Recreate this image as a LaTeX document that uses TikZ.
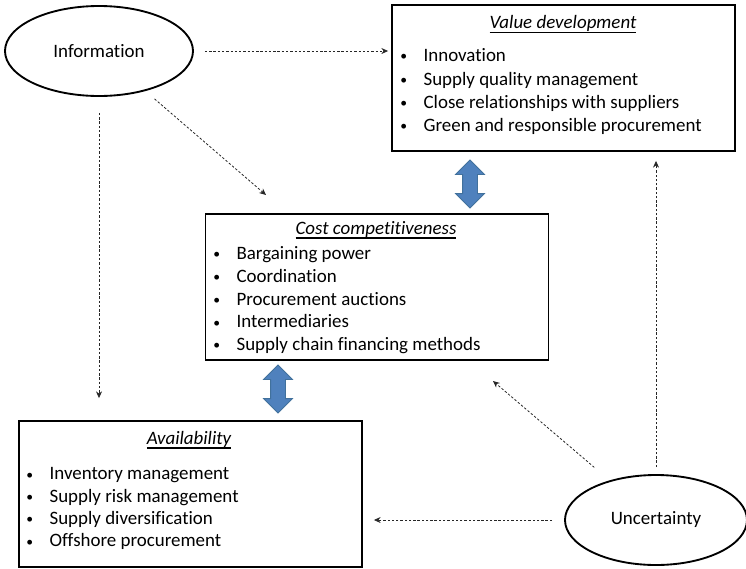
\documentclass[tikz,border=0pt]{standalone}
\usepackage{fontspec}
\setmainfont{Carlito}[Ligatures=NoCommon]
\usepackage{graphicx}
\usepackage{tikz}
\usetikzlibrary{arrows.meta,calc,positioning,shapes.geometric,shapes.arrows}
\definecolor{tinta}{HTML}{000000}
\definecolor{azulflecha}{HTML}{4F81BD}
\definecolor{azulborde}{HTML}{41719C}
\newcommand{\punto}{\makebox[17.5pt][l]{\raisebox{0.6pt}{\scalebox{0.72}{\textbullet}}}}
\newcommand{\subrayado}[1]{\setbox0\hbox{#1}\rlap{\rule[-3.4pt]{\wd0}{0.8pt}}\box0}
\tikzset{
  caja/.style={draw=tinta,line width=1.4pt,minimum width=257.25pt,minimum height=109.5pt,inner sep=0pt},
  elipse/.style={ellipse,draw=tinta,line width=1.4pt,inner sep=0pt,font=\fontsize{14.2}{17}\selectfont},
  titulo/.style={anchor=base,inner sep=0pt,font=\fontsize{14.2}{17}\selectfont\itshape},
  lista/.style={anchor=north west,align=left,inner sep=0pt,font=\fontsize{14.2}{#1}\selectfont},
  punteada/.style={draw=tinta!85,line width=0.6pt,dash pattern=on 1.8pt off 1.4pt,-{Stealth[length=5pt,width=4.5pt]}},
  flechadoble/.style={double arrow,rotate=90,fill=azulflecha,draw=azulborde,line width=0.6pt,minimum height=36pt,inner xsep=0pt,inner ysep=5.25pt,double arrow head extend=5.25pt},
}

\begin{document}
\begin{tikzpicture}[x=0.75pt,y=-0.75pt]
\useasboundingbox (0,0) rectangle (746,568);
\node[caja] (valor) at (563.5,78) {};
\node[caja] (costo) at (377,287) {};
\node[caja] (dispo) at (190.5,494) {};
\node[elipse,minimum width=141pt,minimum height=67.5pt] (info) at (99,51) {Information};
\node[elipse,minimum width=136.5pt,minimum height=67.5pt] (incert) at (656,520) {Uncertainty};
\node[titulo] (tvalor) at (563,28.5) {\subrayado{Value development}};
\node[titulo] (tcosto) at (376,234) {\subrayado{Cost competitiveness}};
\node[titulo] (tdispo) at (189,444) {\subrayado{Availability}};
\node[lista=17.5pt] (lvalor) at (400,48.5) {\punto Innovation\\\punto Supply quality management\\\punto Close relationships with suppliers\\\punto Green and responsible procurement};
\node[lista=17.05pt] (lcosto) at (213,246.5) {\punto Bargaining power\\\punto Coordination\\\punto Procurement auctions\\\punto Intermediaries\\\punto Supply chain financing methods};
\node[lista=16.75pt] (ldispo) at (26,467.5) {\punto Inventory management\\\punto Supply risk management\\\punto Supply diversification\\\punto Offshore procurement};
\node[flechadoble] (dvc) at (470,184) {};
\node[flechadoble] (dcd) at (278,389) {};
\coordinate (infocosto) at (266,195);
\coordinate (incertcosto) at (493,381);
\draw[punteada,shorten <=8.25pt,shorten >=2.25pt] (info.east) -- (info.east -| valor.west);
\draw[punteada,shorten <=9pt] (info) -- (infocosto);
\draw[punteada,shorten <=12pt,shorten >=16.5pt] (info.south) -- (info.south |- dispo.north);
\draw[punteada,shorten <=5.25pt,shorten >=6.75pt] (incert.north) -- (incert.north |- valor.south);
\draw[punteada,shorten <=15pt] (incert) -- (incertcosto);
\draw[punteada,shorten <=9pt,shorten >=8.25pt] (incert.west) -- (incert.west -| dispo.east);
\end{tikzpicture}
\end{document}
